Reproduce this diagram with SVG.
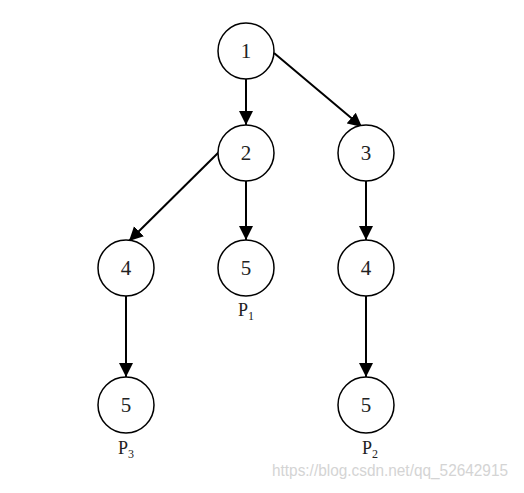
<svg xmlns="http://www.w3.org/2000/svg" width="524" height="493" viewBox="0 0 524 493">
<style>
.node circle{fill:#fff;stroke:#000;stroke-width:1.5}
.node text{font-family:"Liberation Serif","DejaVu Serif",serif;font-size:21px;text-anchor:middle;fill:#222}
.edge{stroke:#000;stroke-width:2;fill:none;marker-end:url(#ah)}
.lbl{font-family:"Liberation Serif","DejaVu Serif",serif;font-size:18px;fill:#222}
.sub{font-size:12px}
.wm{font-family:"Liberation Sans",Arial,sans-serif;font-size:16px;fill:#d4d4d4}
</style>
<defs>
<marker id="ah" markerUnits="userSpaceOnUse" markerWidth="16" markerHeight="16" viewBox="0 0 16 16" refX="14" refY="8" orient="auto">
<path d="M0,1 L14,8 L0,15 Z" fill="#000"/>
</marker>
</defs>
<rect width="524" height="493" fill="#fff"/>
<g id="connectors">
<line class="edge" x1="246" y1="79" x2="246" y2="125"/>
<line class="edge" x1="274" y1="53" x2="362" y2="127"/>
<line class="edge" x1="221" y1="150" x2="129" y2="241"/>
<line class="edge" x1="246" y1="181" x2="246" y2="240"/>
<line class="edge" x1="366" y1="181" x2="366" y2="240"/>
<line class="edge" x1="126" y1="296" x2="126" y2="377"/>
<line class="edge" x1="366" y1="296" x2="366" y2="377"/>
</g>
<g id="n1" class="node"><circle cx="246" cy="51" r="28"/><text x="246" y="58">1</text></g>
<g id="n2" class="node"><circle cx="246" cy="153" r="28"/><text x="246" y="160">2</text></g>
<g id="n3" class="node"><circle cx="366" cy="153" r="28"/><text x="366" y="160">3</text></g>
<g id="n4a" class="node"><circle cx="126" cy="268" r="28"/><text x="126" y="275">4</text></g>
<g id="n5a" class="node"><circle cx="246" cy="268" r="28"/><text x="246" y="275">5</text></g>
<g id="n4b" class="node"><circle cx="366" cy="268" r="28"/><text x="366" y="275">4</text></g>
<g id="n5b" class="node"><circle cx="126" cy="405" r="28"/><text x="126" y="412">5</text></g>
<g id="n5c" class="node"><circle cx="366" cy="405" r="28"/><text x="366" y="412">5</text></g>
<g id="labels">
<text class="lbl" x="238" y="316">P<tspan class="sub" dy="4">1</tspan></text>
<text class="lbl" x="118" y="454">P<tspan class="sub" dy="4">3</tspan></text>
<text class="lbl" x="362" y="454">P<tspan class="sub" dy="4">2</tspan></text>
</g>
<text class="wm" x="272" y="476" textLength="236" lengthAdjust="spacingAndGlyphs">https://blog.csdn.net/qq_52642915</text>
</svg>
